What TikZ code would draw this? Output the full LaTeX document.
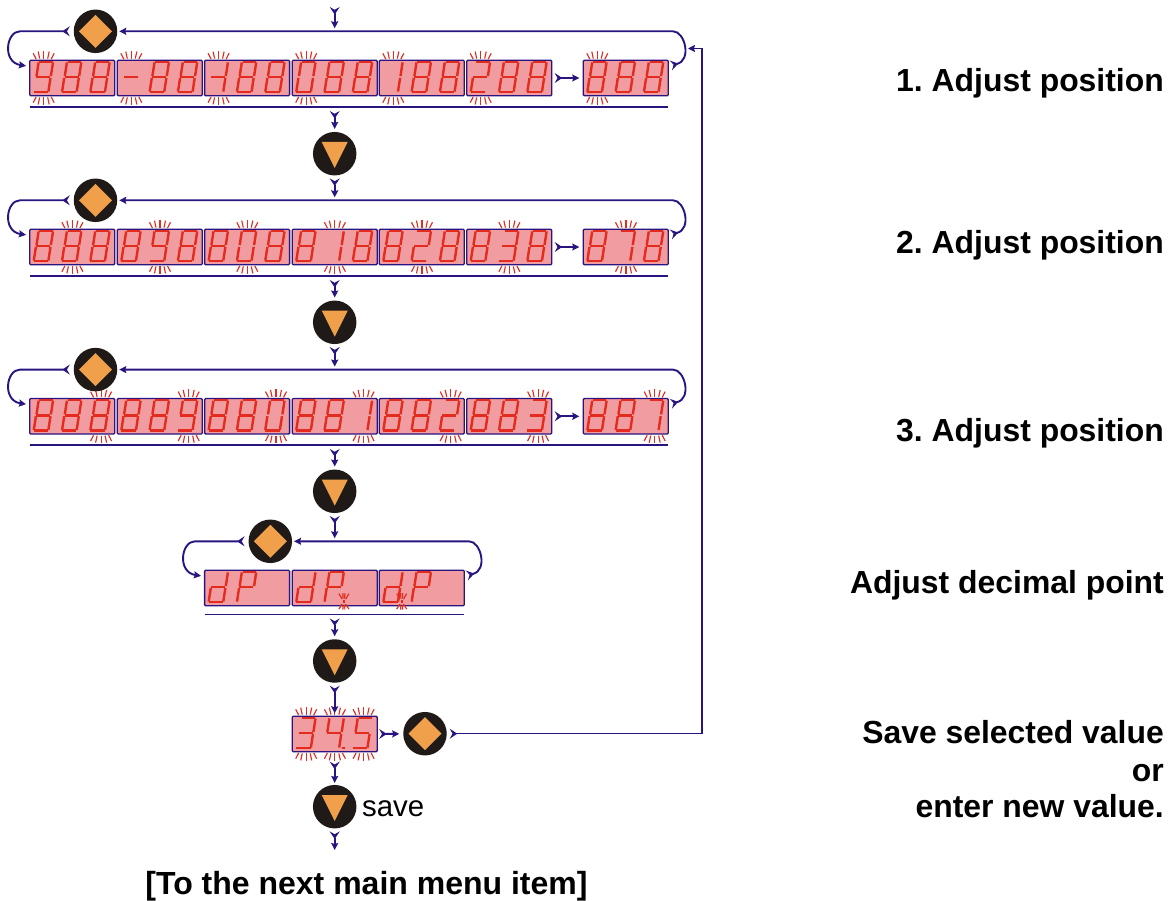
\documentclass[tikz,border=0pt]{standalone}
\usepackage{fontspec}
\setmainfont{Liberation Sans}
\usetikzlibrary{arrows.meta}
\definecolor{navy}{HTML}{2A1480}
\definecolor{segred}{HTML}{E32B1E}
\definecolor{boxpink}{HTML}{F09CA0}
\definecolor{btnblack}{HTML}{1F1A17}
\definecolor{btnorange}{HTML}{F0A04B}
\tikzset{
  disp/.style={draw=navy,fill=boxpink,line width=1.3pt,rounded corners=1pt,anchor=north west,minimum width=85pt,minimum height=35.4pt,inner sep=0pt,outer sep=0pt},
  seg/.style={draw=segred,line width=2.4pt,line cap=butt},
  ray/.style={draw=segred,line width=1.15pt},
  flowline/.style={draw=navy,line width=1.9pt,shorten <=4pt,shorten >=3pt,
    {Stealth[reversed,length=7.5pt,width=10pt,inset=2.8pt]}-{Stealth[length=7pt,width=7pt,inset=1pt]}},
  thinflow/.style={flowline,line width=1.1pt},
  btn/.style={circle,fill=btnblack,minimum size=43.5pt,inner sep=0pt,outer sep=0pt},
  sepline/.style={draw=navy,line width=1.3pt},
  lab/.style={font=\bfseries\fontsize{31.9}{34}\selectfont,anchor=base east,inner sep=0pt},
}
\frenchspacing
\def\dsega{\draw[seg] (6,0)--(19.4,0);}
\def\dsegb{\draw[seg] (19.6,0.6)--(17.5,14.3);}
\def\dsegc{\draw[seg] (17.1,16.1)--(15,29.8);}
\def\dsegd{\draw[seg] (0.2,30.4)--(14.6,30.4);}
\def\dsege{\draw[seg] (2.5,16.1)--(0.4,29.8);}
\def\dsegf{\draw[seg] (5.2,0.6)--(3.1,14.3);}
\def\dsegg{\draw[seg] (2.8,15.2)--(16.8,15.2);}
% digit: box, slot, segment list
\newcommand\dg[3]{\begin{scope}[shift={(#1.north west)}]\begin{scope}[shift={({3.7+28.3*(#2-1)},1.5)}]
  \edef\dgtmp{#3}\foreach \s in \dgtmp {\csname dseg\s\endcsname}\end{scope}\end{scope}}
\def\EIGHT{a,b,c,d,e,f,g}
% three digits at once
\newcommand\dgs[4]{\dg{#1}{1}{#2}\dg{#1}{2}{#3}\dg{#1}{3}{#4}}
% blinking rays above and below a slot
\newcommand\rays[2]{\begin{scope}[shift={(#1.north west)}]\begin{scope}[shift={({14+28.7*(#2-1)},0)}]
  \foreach \m in {-1,1}{
    \draw[ray] (\m*10.5,-7)--(\m*7.5,-1.2);
    \draw[ray] (\m*5.5,-8.7)--(\m*4,-1.7);
    \draw[ray] (\m*10.5,42.4)--(\m*7.5,36.6);
    \draw[ray] (\m*5.5,44.1)--(\m*4,37.1);
  }
  \draw[ray] (0,-9.3)--(0,-1.7);
  \draw[ray] (0,44.7)--(0,37.1);
\end{scope}\end{scope}}
% decimal point with rays
\newcommand\dpstar[2]{\begin{scope}[shift={(#1.north west)}]\begin{scope}[shift={(#2,31.3)}]
  \fill[segred] (-1.2,-1.2) rectangle (1.2,1.2);
  \foreach \m in {-1,1}{
    \draw[ray] (\m*5,-8)--(\m*1.8,-2.5);
    \draw[ray] (\m*5,7.5)--(\m*1.8,2.5);
    \draw[ray] (\m*1,-8.5)--(\m*.8,-3);
    \draw[ray] (\m*1,8)--(\m*.8,3);
  }
\end{scope}\end{scope}}
\newcommand\diabtn[3]{\node[btn] (#1) at (#2,#3) {};
  \begin{scope}[shift={(#1.center)}]\fill[btnorange] (-16.5,0)--(0,-16.5)--(16.5,0)--(0,16.5)--cycle;\end{scope}}
\newcommand\dnbtn[3]{\node[btn] (#1) at (#2,#3) {};
  \begin{scope}[shift={(#1.center)}]\fill[btnorange] (-13,-11.7)--(13,-11.7)--(0,14.3)--cycle;\end{scope}}
% row loop: id, diamond node, y of box top, x shift left, x shift right
\newcommand\rowloop[5]{
  \coordinate (ltail#1) at ({20+#4},#3-29);
  \coordinate (ltip#1) at ({29+#4},#3+6);
  \coordinate (rtail#1) at ({667+#5},#3+6);
  \coordinate (rturn#1) at ({673+#5},#3-29);
  \draw[flowline] (#2) -- (ltail#1) .. controls ({6+#4},#3-29) and ({2+#4},#3+2) .. (ltip#1);
  \draw[flowline,shorten >=2pt] (rtail#1) .. controls ({692+#5},#3) and ({685+#5},#3-29) .. (rturn#1) -- (#2);
}
\begin{document}
\begin{tikzpicture}[x=1pt,y=-1pt]
\useasboundingbox (0,0) rectangle (1176,901);
% --- display boxes
\foreach \n/\x in {1/29.7,2/117.3,3/204.6,4/292.2,5/379.3,6/466.7,7/583.3}{
  \node[disp] (ra\n) at (\x,60.3) {};
  \node[disp] (rb\n) at (\x,229.3) {};
  \node[disp] (rc\n) at (\x,398.6) {};
}
\foreach \n/\x in {1/204.6,2/292.2,3/379.3}{
  \node[disp] (rd\n) at (\x,570.3) {};
}
\node[disp] (val) at (292.2,716.3) {};
% --- row 1 digits
\dgs{ra1}{a,b,c,d,f,g}{\EIGHT}{\EIGHT}
\dgs{ra2}{g}{\EIGHT}{\EIGHT}
\dgs{ra3}{g,b,c}{\EIGHT}{\EIGHT}
\dgs{ra4}{a,b,c,d,e,f}{\EIGHT}{\EIGHT}
\dgs{ra5}{b,c}{\EIGHT}{\EIGHT}
\dgs{ra6}{a,b,g,e,d}{\EIGHT}{\EIGHT}
\dgs{ra7}{\EIGHT}{\EIGHT}{\EIGHT}
% --- row 2 digits
\dgs{rb1}{\EIGHT}{\EIGHT}{\EIGHT}
\dgs{rb2}{\EIGHT}{a,b,c,d,f,g}{\EIGHT}
\dgs{rb3}{\EIGHT}{a,b,c,d,e,f}{\EIGHT}
\dgs{rb4}{\EIGHT}{b,c}{\EIGHT}
\dgs{rb5}{\EIGHT}{a,b,g,e,d}{\EIGHT}
\dgs{rb6}{\EIGHT}{a,b,g,c,d}{\EIGHT}
\dgs{rb7}{\EIGHT}{a,b,c}{\EIGHT}
% --- row 3 digits
\dgs{rc1}{\EIGHT}{\EIGHT}{\EIGHT}
\dgs{rc2}{\EIGHT}{\EIGHT}{a,b,c,d,f,g}
\dgs{rc3}{\EIGHT}{\EIGHT}{a,b,c,d,e,f}
\dgs{rc4}{\EIGHT}{\EIGHT}{b,c}
\dgs{rc5}{\EIGHT}{\EIGHT}{a,b,g,e,d}
\dgs{rc6}{\EIGHT}{\EIGHT}{a,b,g,c,d}
\dgs{rc7}{\EIGHT}{\EIGHT}{a,b,c}
% --- rays
\foreach \n in {1,...,7}{
  \rays{ra\n}{1}\rays{rb\n}{2}\rays{rc\n}{3}
}
% --- dP row
\foreach \n in {1,2,3}{\dg{rd\n}{1}{b,c,d,e,g}\dg{rd\n}{2}{a,b,e,f,g}}
\dpstar{rd2}{51.7}
\dpstar{rd3}{22.4}
% --- value
\dgs{val}{a,b,g,c,d}{b,c,f,g}{a,f,g,c,d}
\begin{scope}[shift={(val.north west)}]\fill[segred] (49.8,30.2) rectangle (52.4,32.8);\end{scope}
\rays{val}{1}\rays{val}{2}\rays{val}{3}
% --- buttons
\diabtn{dia1}{95.5}{31.3}
\diabtn{dia2}{95.5}{200.3}
\diabtn{dia3}{95.5}{369.6}
\diabtn{dia4}{270.3}{541.3}
\diabtn{dia5}{425}{733.7}
\dnbtn{dn1}{334.7}{153.7}
\dnbtn{dn2}{334.7}{322.3}
\dnbtn{dn3}{334.7}{491.3}
\dnbtn{dn4}{334.7}{661}
\dnbtn{dn5}{334.7}{806.7}
% --- separators
\foreach \n/\yy/\xa/\xb in {1/107/29.7/668.3,2/276/29.7/668.3,3/445/29.7/668.3,4/614.5/204.6/464.3}{
  \coordinate (sepl\n) at (\xa,\yy);
  \coordinate (sepr\n) at (\xb,\yy);
  \coordinate (sepm\n) at (334.7,\yy);
  \draw[sepline] (sepl\n) -- (sepr\n);
}
% --- loops
\rowloop{1}{dia1}{60.3}{0}{0}
\rowloop{2}{dia2}{229.3}{0}{0}
\rowloop{3}{dia3}{398.6}{0}{0}
\rowloop{4}{dia4}{570.3}{175}{-204}
% --- vertical flow
\coordinate (start) at (334.7,3);
\coordinate (hit1) at (334.7,31.3);
\coordinate (hit2) at (334.7,200.3);
\coordinate (hit3) at (334.7,369.6);
\coordinate (hit4) at (334.7,541.3);
\coordinate (finish) at (334.7,853);
\draw[flowline] (start) -- (hit1);
\draw[flowline] (sepm1) -- (dn1);
\draw[flowline,shorten <=3pt] (dn1) -- (hit2);
\draw[flowline] (sepm2) -- (dn2);
\draw[flowline,shorten <=3pt] (dn2) -- (hit3);
\draw[flowline] (sepm3) -- (dn3);
\draw[flowline,shorten <=3pt] (dn3) -- (hit4);
\draw[flowline] (sepm4) -- (dn4);
\draw[flowline,shorten <=3pt] (dn4) -- (val);
\draw[flowline,shorten <=10pt,shorten >=2pt] (val) -- (dn5);
\draw[flowline,shorten <=3pt] (dn5) -- (finish);
% --- row gaps
\draw[flowline,shorten <=3pt,shorten >=4pt] (ra6.east) -- (ra7.west);
\draw[flowline,shorten <=3pt,shorten >=4pt] (rb6.east) -- (rb7.west);
\draw[flowline,shorten <=3pt,shorten >=4pt] (rc6.east) -- (rc7.west);
\draw[flowline,shorten <=2pt,shorten >=4pt] (val.east) -- (dia5);
% --- return line
\coordinate (retc) at (702,733.7);
\coordinate (rett) at (702,48.5);
\coordinate (retend) at (688,48.5);
\draw[thinflow,shorten <=3pt,shorten >=0pt] (dia5) -- (retc) -- (rett) -- (retend);
% --- labels
\node[lab] (l1) at (1164,92) {1. Adjust position};
\node[lab] (l2) at (1164,254) {2. Adjust position};
\node[lab] (l3) at (1164,442) {3. Adjust position};
\node[lab] (l4) at (1164,593) {Adjust decimal point};
\node[lab] (l5) at (1164,743.5) {Save selected value};
\node[lab] (l6) at (1164,781.5) {or};
\node[lab] (l7) at (1164,817) {enter new value.};
\node[font=\fontsize{29.4}{32}\selectfont,anchor=base west,inner sep=0pt] (savet) at (362,816) {save};
\node[font=\bfseries\fontsize{32}{34}\selectfont,anchor=base,inner sep=0pt] (next) at (366.5,894.5) {[To the next main menu item]};
\end{tikzpicture}
\end{document}
